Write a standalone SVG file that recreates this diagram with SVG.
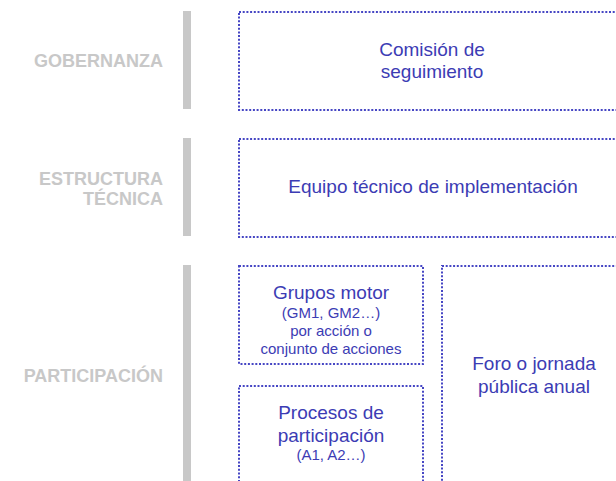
<svg xmlns="http://www.w3.org/2000/svg" width="616" height="481" viewBox="0 0 616 481">
<style>
.bg{fill:#ffffff}
.bar{fill:#c8c8c8}
.lab{font-family:"Liberation Sans",Arial,sans-serif;font-weight:bold;font-size:18px;fill:#c8c8c8;text-anchor:end}
.box{fill:none;stroke:#4646c4;stroke-width:2;stroke-dasharray:2 1.7}
.t{font-family:"Liberation Sans",Arial,sans-serif;fill:#3c3cb4;text-anchor:middle}
.big{font-size:19px}
.sm{font-size:15px}
</style>
<rect class="bg" width="616" height="481"/>
<g id="label-gobernanza"><text class="lab" x="163" y="67">GOBERNANZA</text><rect class="bar" x="183" y="11" width="8" height="98"/></g>
<g id="label-estructura"><text class="lab" x="163" y="185">ESTRUCTURA</text><text class="lab" x="163" y="205">TÉCNICA</text><rect class="bar" x="183" y="138" width="8" height="98"/></g>
<g id="label-participacion"><text class="lab" x="163" y="382">PARTICIPACIÓN</text><rect class="bar" x="183" y="265" width="8" height="220"/></g>
<g id="node-comision"><rect class="box" x="239" y="12" width="390" height="98"/><text class="t big" x="432" y="56">Comisión de</text><text class="t big" x="432" y="78">seguimiento</text></g>
<g id="node-equipo"><rect class="box" x="239" y="139" width="390" height="98"/><text class="t big" x="433" y="193">Equipo técnico de implementación</text></g>
<g id="node-grupos"><rect class="box" x="239" y="266" width="184" height="98"/><text class="t big" x="331" y="299">Grupos motor</text><text class="t sm" x="331" y="318">(GM1, GM2…)</text><text class="t sm" x="331" y="336">por acción o</text><text class="t sm" x="331" y="354">conjunto de acciones</text></g>
<g id="node-procesos"><rect class="box" x="239" y="386" width="184" height="110"/><text class="t big" x="331" y="419">Procesos de</text><text class="t big" x="331" y="442">participación</text><text class="t sm" x="331" y="460">(A1, A2…)</text></g>
<g id="node-foro"><rect class="box" x="442" y="266" width="190" height="230"/><text class="t big" x="534" y="370">Foro o jornada</text><text class="t big" x="534" y="393">pública anual</text></g>
<g id="connectors"></g>
</svg>
